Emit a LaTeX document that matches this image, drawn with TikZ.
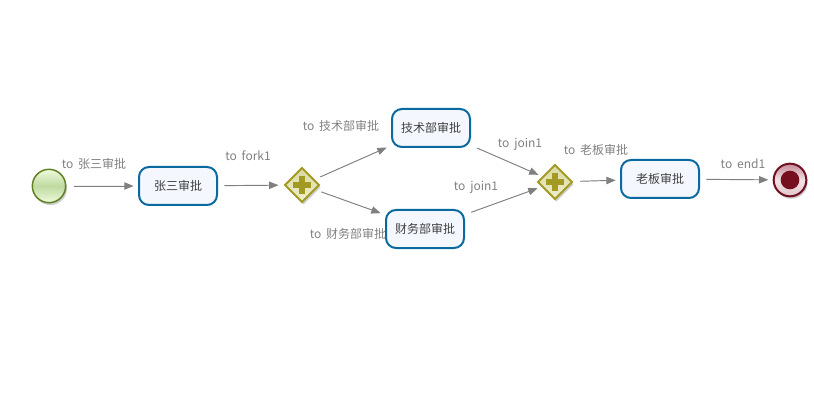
\documentclass[tikz,border=0pt]{standalone}
\usepackage{fontspec}
\setmainfont[WordSpace=1.8]{Noto Sans CJK SC}
\usetikzlibrary{shapes.geometric,shadows,arrows.meta}
\definecolor{taskblue}{HTML}{0A6AA0}
\definecolor{taskfill}{HTML}{F5F7FF}
\definecolor{gateline}{HTML}{A39A24}
\definecolor{endred}{HTML}{6E1022}
\definecolor{startline}{HTML}{5F7F20}
\tikzset{
  task/.style={draw=taskblue, line width=1.5pt, fill=taskfill, rounded corners=7.5pt, minimum width=58.5pt, minimum height=28.5pt, inner sep=0pt, outer sep=4pt, font=\fontsize{9}{11}\selectfont, text=black!75},
  flowlabel/.style={font=\fontsize{9}{11}\selectfont, text=black!50, inner sep=0pt},
  flow/.style={-{Triangle[length=7pt,width=5.5pt]}, draw=black!50, fill=black!50, line width=0.7pt, shorten <=1.5pt},
  softshadow/.style={drop shadow={opacity=0.4, shadow xshift=1pt, shadow yshift=-1.8pt}},
  startevent/.style={circle, draw=startline, line width=1.1pt, minimum size=25pt, inner sep=0pt, outer sep=4.5pt, top color=startfill, bottom color=startfill, middle color=startmid, softshadow},
  endevent/.style={circle, draw=endred, line width=1.5pt, minimum size=24.5pt, inner sep=0pt, outer sep=4pt, top color=endring, bottom color=endring!50, middle color=endring!25, softshadow},
  endcore/.style={circle, fill=endred!95!red, minimum size=14pt, inner sep=0pt},
  gateway/.style={diamond, draw=gateline, line width=1.5pt, aspect=1, minimum size=28.5pt, inner sep=0pt, outer sep=3.5pt, top color=gatetop, bottom color=gatebottom, softshadow},
  plusbar/.style={fill=gateline, inner sep=0pt},
}
\definecolor{startfill}{HTML}{EEFBDC}
\definecolor{startmid}{HTML}{BFD9A0}
\definecolor{endring}{HTML}{C58A96}
\definecolor{gatetop}{HTML}{D8D8A0}
\definecolor{gatebottom}{HTML}{F0F0CC}
\begin{document}
\begin{tikzpicture}[x=0.75pt, y=-0.75pt]
\useasboundingbox (0,0) rectangle (814,417);
% events and tasks
\node[startevent] (start) at (49,186) {};
\node[task] (zhangsan) at (178,186) {张三审批};
\node[gateway] (fork) at (302,185) {};
\node[task] (tech) at (431,128) {技术部审批};
\node[task] (finance) at (425,229) {财务部审批};
\node[gateway] (join) at (555,182) {};
\node[task] (boss) at (660,179) {老板审批};
\node[endevent] (end) at (790,180) {};
\node[endcore] (endin) at (end.center) {};
% plus marks
\foreach \gate in {fork, join} {
  \node[plusbar, minimum width=13pt, minimum height=4.5pt] (\gate h) at (\gate.center) {};
  \node[plusbar, minimum width=4.5pt, minimum height=13pt] (\gate v) at (\gate.center) {};
}
% flows
\draw[flow] (start) -- (zhangsan);
\draw[flow] (zhangsan) -- (fork);
\draw[flow] (fork) -- (tech);
\draw[flow] (fork) -- (finance);
\draw[flow] (tech) -- (join);
\draw[flow] (finance) -- (join);
\draw[flow] (join) -- (boss);
\draw[flow] (boss) -- (end);
% labels
\node[flowlabel] (l1) at (94,164) {to 张三审批};
\node[flowlabel] (l2) at (248,156) {to fork1};
\node[flowlabel] (l3) at (341,126) {to 技术部审批};
\node[flowlabel] (l4) at (348,234) {to 财务部审批};
\node[flowlabel] (l5) at (520,144) {to join1};
\node[flowlabel] (l6) at (476,187) {to join1};
\node[flowlabel] (l7) at (596,150) {to 老板审批};
\node[flowlabel] (l8) at (743,164) {to end1};
\end{tikzpicture}
\end{document}
